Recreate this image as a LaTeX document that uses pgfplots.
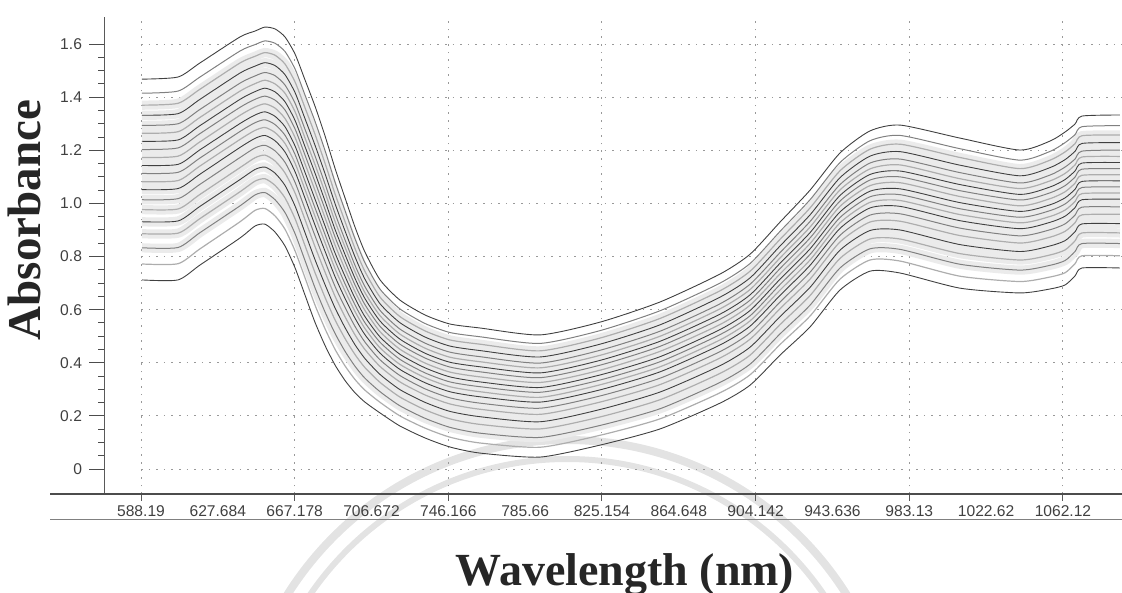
\documentclass[border=0pt]{standalone}
\usepackage{pgfplots}
\pgfplotsset{compat=1.18}
\usepackage{pgfplotstable}
\usepackage{fontspec}
\setmainfont{Liberation Serif}
\newfontfamily\arial{Liberation Sans}

% absorbance spectra (x in nm)
\pgfplotstableread{
x c0 c1 c2 c3 c4 c5 c6 c7 c8 c9 c10 c11 c12 c13 c14 c15 c16 c17 c18 c19
588.7 0.712 0.772 0.833 0.886 0.931 0.977 1.014 1.052 1.082 1.113 1.143 1.173 1.203 1.234 1.264 1.294 1.332 1.370 1.415 1.468
607.2 0.712 0.773 0.834 0.888 0.934 0.979 1.018 1.056 1.086 1.117 1.147 1.178 1.209 1.239 1.270 1.300 1.338 1.377 1.423 1.476
618.5 0.768 0.829 0.890 0.943 0.989 1.034 1.072 1.110 1.141 1.171 1.202 1.232 1.263 1.293 1.324 1.354 1.392 1.430 1.476 1.529
639.1 0.870 0.931 0.991 1.044 1.090 1.135 1.173 1.211 1.241 1.271 1.301 1.332 1.362 1.392 1.423 1.453 1.491 1.529 1.574 1.627
646.8 0.915 0.974 1.032 1.084 1.128 1.172 1.209 1.245 1.275 1.304 1.333 1.363 1.392 1.421 1.451 1.480 1.517 1.554 1.598 1.649
651.9 0.922 0.981 1.041 1.093 1.137 1.182 1.219 1.256 1.286 1.315 1.345 1.375 1.404 1.434 1.464 1.493 1.530 1.568 1.612 1.664
657.1 0.892 0.953 1.014 1.068 1.114 1.160 1.198 1.236 1.267 1.297 1.328 1.359 1.389 1.420 1.450 1.481 1.519 1.558 1.603 1.657
662.2 0.840 0.903 0.966 1.021 1.068 1.115 1.155 1.194 1.226 1.257 1.289 1.320 1.352 1.383 1.415 1.446 1.485 1.525 1.572 1.627
667.4 0.757 0.821 0.886 0.942 0.990 1.039 1.079 1.119 1.151 1.184 1.216 1.248 1.280 1.312 1.345 1.377 1.417 1.457 1.506 1.562
672.5 0.655 0.720 0.785 0.841 0.890 0.939 0.979 1.020 1.052 1.084 1.117 1.149 1.182 1.214 1.246 1.279 1.319 1.360 1.408 1.465
677.6 0.553 0.618 0.683 0.740 0.789 0.838 0.879 0.919 0.952 0.984 1.017 1.050 1.082 1.115 1.147 1.180 1.220 1.261 1.310 1.367
682.8 0.465 0.528 0.591 0.646 0.694 0.741 0.781 0.820 0.852 0.883 0.915 0.946 0.978 1.009 1.041 1.073 1.112 1.151 1.199 1.254
687.9 0.392 0.451 0.511 0.562 0.607 0.651 0.688 0.725 0.755 0.785 0.814 0.844 0.874 0.903 0.933 0.963 1.000 1.037 1.081 1.133
693.1 0.333 0.388 0.443 0.491 0.532 0.573 0.608 0.642 0.670 0.697 0.725 0.752 0.780 0.807 0.835 0.862 0.896 0.931 0.972 1.020
698.2 0.287 0.337 0.387 0.431 0.468 0.505 0.537 0.568 0.593 0.618 0.643 0.668 0.693 0.718 0.743 0.767 0.799 0.830 0.867 0.911
703.3 0.252 0.297 0.342 0.382 0.416 0.450 0.478 0.506 0.529 0.551 0.574 0.597 0.619 0.642 0.664 0.687 0.715 0.744 0.777 0.817
711.1 0.211 0.251 0.291 0.326 0.356 0.386 0.411 0.436 0.456 0.477 0.497 0.517 0.537 0.557 0.577 0.597 0.622 0.647 0.677 0.712
721.3 0.162 0.200 0.238 0.271 0.299 0.328 0.352 0.375 0.394 0.413 0.432 0.451 0.470 0.489 0.508 0.527 0.551 0.574 0.603 0.636
734.2 0.117 0.154 0.191 0.223 0.251 0.279 0.302 0.325 0.344 0.362 0.381 0.399 0.418 0.436 0.455 0.474 0.497 0.520 0.548 0.580
747.0 0.083 0.120 0.157 0.189 0.217 0.245 0.268 0.291 0.310 0.328 0.347 0.365 0.384 0.402 0.421 0.440 0.463 0.486 0.514 0.546
762.5 0.060 0.098 0.135 0.168 0.197 0.225 0.248 0.272 0.291 0.310 0.328 0.347 0.366 0.385 0.404 0.423 0.446 0.470 0.498 0.531
793.3 0.045 0.082 0.119 0.151 0.178 0.206 0.229 0.252 0.270 0.289 0.307 0.326 0.344 0.362 0.381 0.399 0.422 0.445 0.473 0.505
824.1 0.090 0.127 0.164 0.196 0.224 0.252 0.275 0.298 0.317 0.335 0.354 0.372 0.391 0.409 0.428 0.447 0.470 0.493 0.521 0.553
855.0 0.151 0.189 0.227 0.261 0.290 0.318 0.342 0.366 0.385 0.404 0.423 0.443 0.462 0.481 0.500 0.519 0.543 0.567 0.596 0.629
885.8 0.248 0.287 0.326 0.360 0.389 0.418 0.442 0.467 0.486 0.506 0.525 0.544 0.564 0.583 0.603 0.622 0.647 0.671 0.700 0.734
901.3 0.316 0.355 0.395 0.429 0.459 0.489 0.513 0.538 0.558 0.577 0.597 0.617 0.636 0.656 0.676 0.696 0.720 0.745 0.774 0.809
916.7 0.429 0.469 0.509 0.544 0.574 0.604 0.629 0.654 0.674 0.695 0.715 0.735 0.755 0.775 0.795 0.815 0.840 0.865 0.895 0.930
932.1 0.535 0.576 0.617 0.653 0.684 0.715 0.741 0.767 0.787 0.808 0.829 0.849 0.870 0.890 0.911 0.932 0.957 0.983 1.014 1.050
947.5 0.674 0.715 0.757 0.793 0.824 0.855 0.880 0.906 0.927 0.947 0.968 0.989 1.009 1.030 1.051 1.071 1.097 1.123 1.154 1.190
962.9 0.745 0.787 0.829 0.866 0.898 0.930 0.956 0.983 1.004 1.025 1.046 1.067 1.088 1.109 1.130 1.152 1.178 1.204 1.236 1.273
978.4 0.738 0.783 0.827 0.866 0.900 0.933 0.961 0.989 1.011 1.033 1.055 1.078 1.100 1.122 1.145 1.167 1.195 1.223 1.256 1.295
1009.2 0.681 0.726 0.771 0.811 0.845 0.879 0.907 0.935 0.958 0.980 1.003 1.026 1.048 1.071 1.093 1.116 1.144 1.173 1.206 1.246
1040.0 0.663 0.706 0.749 0.787 0.819 0.851 0.878 0.905 0.927 0.948 0.970 0.991 1.013 1.034 1.056 1.077 1.104 1.131 1.163 1.201
1055.5 0.678 0.723 0.767 0.806 0.840 0.873 0.901 0.929 0.951 0.973 0.995 1.018 1.040 1.062 1.085 1.107 1.135 1.163 1.196 1.235
1063.2 0.693 0.739 0.785 0.825 0.860 0.895 0.923 0.952 0.975 0.998 1.021 1.044 1.067 1.090 1.113 1.137 1.165 1.194 1.229 1.269
1068.3 0.727 0.773 0.819 0.859 0.893 0.927 0.956 0.984 1.007 1.030 1.053 1.076 1.099 1.122 1.145 1.167 1.196 1.225 1.259 1.299
1071.9 0.757 0.803 0.849 0.889 0.923 0.957 0.986 1.014 1.037 1.060 1.083 1.106 1.129 1.152 1.175 1.197 1.226 1.255 1.289 1.329
1091.4 0.757 0.803 0.849 0.889 0.924 0.959 0.987 1.016 1.039 1.062 1.085 1.108 1.131 1.154 1.177 1.201 1.229 1.258 1.293 1.333
}\spectra

\tikzset{
  gridline/.style={black!40, line width=0.5pt, dash pattern=on 0.8pt off 3pt},
  under/.style={black!8, line width=4.6pt, smooth, tension=0.4},
  sa/.style={black!75, line width=0.45pt, smooth, tension=0.4},
  sb/.style={black!50, line width=0.5pt, smooth, tension=0.4},
  sc/.style={black!32, line width=0.6pt, smooth, tension=0.4},
}

\begin{document}
\begin{tikzpicture}
\useasboundingbox (-52pt,-49.5pt) rectangle (509pt,247pt);
% faint seal of the scanned page
\draw[gray!22, line width=4pt] (231.5pt,-138pt) circle (165pt);
\draw[gray!22, line width=3pt] (231.5pt,-138pt) circle (155.5pt);

\begin{axis}[
    at={(0pt,0pt)}, anchor=south west,
    scale only axis, width=509pt, height=238.5pt,
    xmin=569.17, xmax=1092.47,
    ymin=-0.094, ymax=1.702,
    clip=false,
    axis lines*=left,
    axis line style={black!65, line width=0.5pt},
    tick align=outside,
    xtick={588.19,627.684,667.178,706.672,746.166,785.66,825.154,864.648,904.142,943.636,983.13,1022.62,1062.12},
    xticklabels={588.19,627.684,667.178,706.672,746.166,785.66,825.154,864.648,904.142,943.636,983.13,1022.62,1062.12},
    xtick style={draw=none},
    xticklabel style={yshift=5pt},
    ytick={0,0.2,0.4,0.6,0.8,1.0,1.2,1.4,1.6},
    yticklabels={0,0.2,0.4,0.6,0.8,1.0,1.2,1.4,1.6},
    minor y tick num=3,
    major tick length=7.5pt, minor tick length=3pt,
    ytick style={black!70, line width=0.5pt},
    ticklabel style={font=\arial\fontsize{7.8}{9}\selectfont, text=black!75},
    /pgf/number format/assume math mode=true,
]
\pgfplotsinvokeforeach{0,0.2,0.4,0.6,0.8,1.0,1.2,1.4,1.6}{
  \draw[gridline] (axis cs:588.19,#1) -- (axis cs:1092.47,#1);
}
\pgfplotsinvokeforeach{588.19,667.178,746.166,825.154,904.142,983.13,1062.12}{
  \draw[gridline] (axis cs:#1,-0.094) -- (axis cs:#1,1.69);
  \draw[black!65, line width=0.5pt] (axis cs:#1,-0.094) -- ++(0pt,-3.5pt);
}

% light haze of the dense band
\pgfplotsinvokeforeach{2,3,4,5,6,7,8,9,10,11,12,13,14,15,16,17}{
  \addplot[under] table[y=c#1] {\spectra};
}

\addplot[sa] table[y=c0] {\spectra};
\addplot[sc] table[y=c1] {\spectra};
\addplot[sb] table[y=c2] {\spectra};
\addplot[sc] table[y=c3] {\spectra};
\addplot[sa] table[y=c4] {\spectra};
\addplot[sc] table[y=c5] {\spectra};
\addplot[sb] table[y=c6] {\spectra};
\addplot[sa] table[y=c7] {\spectra};
\addplot[sc] table[y=c8] {\spectra};
\addplot[sb] table[y=c9] {\spectra};
\addplot[sa] table[y=c10] {\spectra};
\addplot[sc] table[y=c11] {\spectra};
\addplot[sb] table[y=c12] {\spectra};
\addplot[sa] table[y=c13] {\spectra};
\addplot[sc] table[y=c14] {\spectra};
\addplot[sb] table[y=c15] {\spectra};
\addplot[sa] table[y=c16] {\spectra};
\addplot[sc] table[y=c17] {\spectra};
\addplot[sb] table[y=c18] {\spectra};
\addplot[sa] table[y=c19] {\spectra};
\end{axis}

% long axis line and the rule under the wavelength labels
\draw[black!70, line width=0.6pt] (-27pt,0pt) -- (509pt,0pt);
\draw[black!50, line width=0.5pt] (-27pt,-13pt) -- (509pt,-13pt);

\node[rotate=90, text=black!85, font=\bfseries\fontsize{23.5}{28}\selectfont] at (-40pt,137pt) {Absorbance};
\node[anchor=base, text=black!85, font=\bfseries\fontsize{23}{28}\selectfont] at (260.5pt,-45.5pt) {Wavelength (nm)};
\end{tikzpicture}
\end{document}
